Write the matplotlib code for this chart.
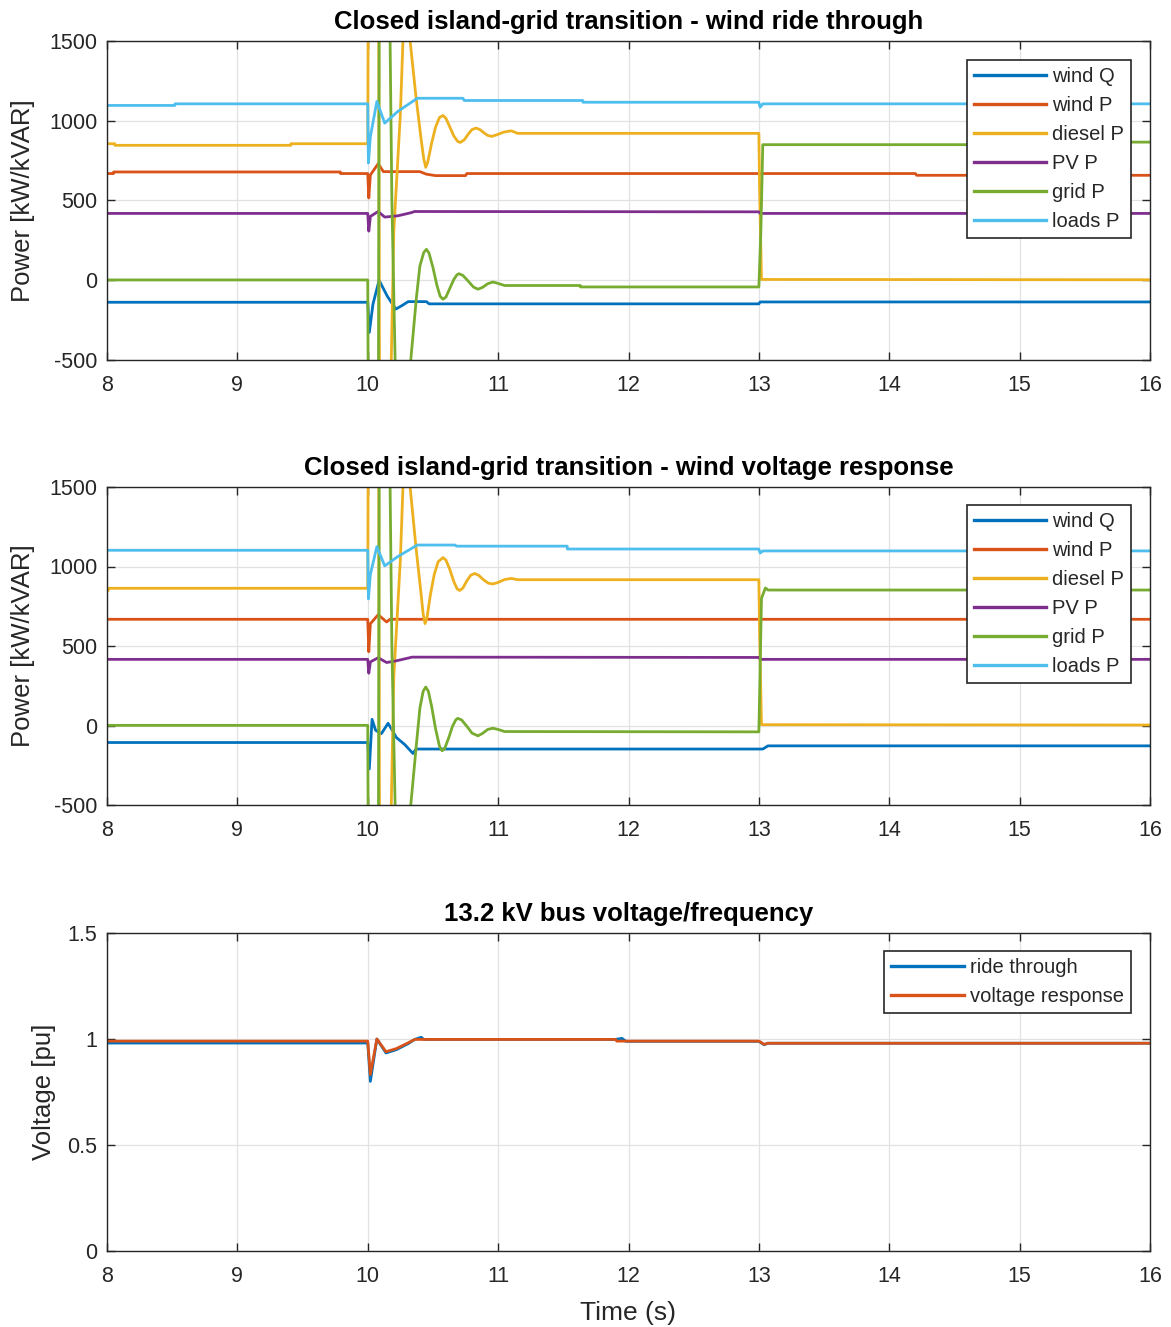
import matplotlib
matplotlib.use("Agg")
import matplotlib.pyplot as plt

plt.rcParams['font.family'] = ['Liberation Sans', 'DejaVu Sans']
plt.rcParams['axes.unicode_minus'] = False

# MATLAB default colour order
C_WQ, C_WP, C_DP, C_PV, C_GP, C_LP = '#0072BD', '#D95319', '#EDB120', '#7E2F8E', '#77AC30', '#4DBEEE'

labels = ['wind Q', 'wind P', 'diesel P', 'PV P', 'grid P', 'loads P']

# ---- panel 1: wind ride through ----
rt_wq_t = [8, 10.0, 10.012, 10.04, 10.087, 10.15, 10.215, 10.26, 10.31, 10.45, 10.47, 13.0, 13.01, 16]
rt_wq = [-138, -138, -327, -150, 0, -100, -181, -160, -134, -134, -148, -148, -136, -136]

rt_wp_t = [8, 8.05, 8.051, 9.79, 9.791, 10.0, 10.008, 10.02, 10.08, 10.12, 10.40, 10.45, 10.52, 10.75, 10.76, 14.2, 14.21, 16]
rt_wp = [669, 669, 679, 679, 669, 669, 516, 660, 731, 681, 681, 665, 656, 656, 669, 669, 658, 658]

rt_dp_t = [8, 8.06, 8.061, 9.41, 9.411, 10.0, 10.003, 10.04, 10.084, 10.09, 10.135, 10.178, 10.20, 10.25,
           10.27, 10.30, 10.325, 10.37, 10.41, 10.43, 10.445, 10.46, 10.49, 10.52, 10.55, 10.577, 10.60,
           10.63, 10.66, 10.69, 10.71, 10.74, 10.77, 10.80, 10.83, 10.86, 10.89, 10.92, 10.95, 10.99,
           11.04, 11.10, 11.15, 13.0, 13.005, 13.02, 16]
rt_dp = [856, 856, 846, 846, 856, 856, 1600, 3000, 1600, -600, -2400, -600, 310, 1040,
         1500, 1800, 1500, 1150, 880, 760, 708, 740, 860, 960, 1020, 1033, 1015,
         960, 905, 870, 864, 880, 915, 945, 954, 945, 925, 908, 902, 912,
         928, 937, 921, 921, 600, 5, 3]

rt_pv_t = [8, 10.0, 10.008, 10.02, 10.08, 10.13, 10.23, 10.33, 10.36, 13.0, 13.01, 16]
rt_pv = [419, 419, 308, 400, 431, 396, 404, 423, 431, 429, 419, 419]

rt_gp_t = [8, 10.0, 10.003, 10.04, 10.082, 10.088, 10.13, 10.17, 10.185, 10.21, 10.27, 10.33, 10.373,
           10.40, 10.43, 10.45, 10.47, 10.50, 10.53, 10.555, 10.577, 10.60, 10.63, 10.66, 10.685,
           10.70, 10.73, 10.77, 10.81, 10.845, 10.88, 10.92, 10.96, 11.0, 11.05, 11.63, 11.631,
           13.0, 13.015, 13.03, 14.79, 14.791, 16]
rt_gp = [2, 2, -600, -2600, -600, 1600, 3300, 1600, 500, -500, -1700, -500, -110,
         90, 175, 194, 170, 80, -30, -100, -119, -105, -50, 5, 35,
         41, 30, -5, -42, -56, -45, -22, -11, -20, -33, -33, -42,
         -42, 300, 850, 850, 866, 866]

rt_lp_t = [8, 8.52, 8.521, 10.0, 10.005, 10.02, 10.07, 10.13, 10.23, 10.38, 10.73, 10.74, 11.65, 11.651,
           13.0, 13.01, 13.03, 16]
rt_lp = [1096, 1096, 1106, 1106, 735, 900, 1121, 985, 1058, 1141, 1141, 1127, 1127, 1116,
         1116, 1085, 1106, 1106]

# ---- panel 2: wind voltage response ----
vr_wq_t = [8, 10.0, 10.012, 10.033, 10.06, 10.105, 10.156, 10.22, 10.284, 10.347, 10.37, 13.03, 13.07, 16]
vr_wq = [-107, -107, -273, 39, -30, -51, 14, -76, -120, -176, -148, -148, -128, -128]

vr_wp_t = [8, 10.0, 10.008, 10.02, 10.08, 10.145, 10.17, 16]
vr_wp = [668, 668, 464, 640, 697, 651, 668, 668]

vr_dp_t = [8, 8.01, 8.011, 10.0, 10.003, 10.04, 10.084, 10.09, 10.135, 10.178, 10.20, 10.25,
           10.27, 10.30, 10.325, 10.37, 10.41, 10.425, 10.44, 10.455, 10.48, 10.51, 10.54, 10.577,
           10.60, 10.63, 10.66, 10.685, 10.705, 10.73, 10.76, 10.79, 10.82, 10.85, 10.89, 10.925,
           10.96, 11.0, 11.05, 11.10, 11.15, 13.0, 13.005, 13.02, 16]
vr_dp = [849, 849, 863, 863, 1600, 3000, 1600, -600, -2400, -600, 310, 1040,
         1500, 1800, 1500, 1120, 820, 700, 641, 680, 820, 950, 1030, 1056,
         1040, 980, 905, 860, 849, 865, 910, 945, 956, 945, 915, 895,
         890, 900, 918, 925, 917, 917, 600, 5, 3]

vr_pv_t = [8, 10.0, 10.008, 10.02, 10.08, 10.145, 10.22, 10.32, 10.34, 13.0, 13.01, 16]
vr_pv = [416, 416, 329, 400, 426, 396, 407, 426, 430, 428, 416, 416]

vr_gp_t = [8, 10.0, 10.003, 10.04, 10.082, 10.088, 10.13, 10.17, 10.185, 10.21, 10.27, 10.33, 10.373,
           10.40, 10.425, 10.445, 10.465, 10.49, 10.52, 10.55, 10.57, 10.59, 10.62, 10.65, 10.675,
           10.69, 10.72, 10.76, 10.80, 10.845, 10.88, 10.92, 10.96, 11.0, 11.05,
           13.0, 13.02, 13.05, 13.07, 16]
vr_gp = [1, 1, -600, -2600, -600, 1600, 3300, 1600, 500, -500, -1700, -500, -120,
         110, 215, 242, 215, 120, -20, -130, -159, -145, -80, -5, 35,
         45, 35, -5, -48, -65, -50, -25, -17, -25, -38,
         -40, 800, 865, 852, 852]

vr_lp_t = [8, 10.0, 10.005, 10.02, 10.07, 10.13, 10.23, 10.38, 10.67, 10.68, 11.53, 11.531,
           13.0, 13.01, 13.03, 16]
vr_lp = [1102, 1102, 796, 950, 1125, 1004, 1062, 1135, 1135, 1128, 1128, 1110,
         1110, 1085, 1098, 1098]

# ---- panel 3: 13.2 kV bus voltage ----
v_rt_t = [8, 10.0, 10.02, 10.07, 10.14, 10.22, 10.31, 10.36, 10.41, 10.43, 11.9, 11.95, 11.98, 13.0, 13.04, 13.07, 16]
v_rt = [0.981, 0.981, 0.80, 1.0, 0.934, 0.95, 0.978, 0.998, 1.008, 0.998, 0.998, 1.003, 0.989, 0.989, 0.973, 0.98, 0.98]
v_vr_t = [8, 10.0, 10.02, 10.07, 10.14, 10.22, 10.31, 10.36, 11.9, 11.91, 13.0, 13.04, 13.07, 16]
v_vr = [0.99, 0.99, 0.832, 1.0, 0.94, 0.955, 0.982, 0.998, 0.998, 0.99, 0.99, 0.975, 0.98, 0.98]

xticks = list(range(8, 17))

fig = plt.figure(figsize=(11.71, 13.27), dpi=100)
L, W = 107 / 1171, 1043 / 1171
ax1 = fig.add_axes([L, 1 - 360 / 1327, W, 319 / 1327])
ax2 = fig.add_axes([L, 1 - 805 / 1327, W, 318 / 1327])
ax3 = fig.add_axes([L, 1 - 1251 / 1327, W, 318 / 1327])

LW = 2.0
def style(ax):
    ax.set_xlim(8, 16)
    ax.set_xticks(xticks)
    ax.grid(True, color='#e2e2e2', lw=0.9)
    ax.tick_params(direction='in', top=True, right=True, length=6, width=1, colors='#262626',
                   labelsize=15.5, labelcolor='#262626')
    ax.tick_params(axis='x', pad=11)
    ax.tick_params(axis='y', pad=7)
    for s in ax.spines.values():
        s.set_color('#262626')
        s.set_linewidth(1)

def legend(ax, y_anchor):
    lg = ax.legend(loc='upper right', bbox_to_anchor=(0.9818, y_anchor), borderaxespad=0,
                   fontsize=14.5, frameon=True, fancybox=False, framealpha=1, edgecolor='#262626',
                   handlelength=3.6, handletextpad=0.3, labelspacing=0.5, borderpad=0.35)
    lg.get_frame().set_linewidth(1.2)
    for t in lg.get_texts():
        t.set_color('#262626')
    for h in lg.get_lines():
        h.set_linewidth(2.4)

for ax, series, title in [
    (ax1, [(rt_wq_t, rt_wq), (rt_wp_t, rt_wp), (rt_dp_t, rt_dp), (rt_pv_t, rt_pv), (rt_gp_t, rt_gp), (rt_lp_t, rt_lp)],
     'Closed island-grid transition - wind ride through'),
    (ax2, [(vr_wq_t, vr_wq), (vr_wp_t, vr_wp), (vr_dp_t, vr_dp), (vr_pv_t, vr_pv), (vr_gp_t, vr_gp), (vr_lp_t, vr_lp)],
     'Closed island-grid transition - wind voltage response'),
]:
    for (t, v), c, lab in zip(series, [C_WQ, C_WP, C_DP, C_PV, C_GP, C_LP], labels):
        ax.plot(t, v, color=c, lw=LW, label=lab)
    style(ax)
    ax.set_ylim(-500, 1500)
    ax.set_yticks([-500, 0, 500, 1000, 1500])
    ax.set_ylabel('Power [kW/kVAR]', fontsize=18.5, color='#262626', labelpad=10)
    ax.set_title(title, fontsize=18.5, fontweight='bold', pad=9)

legend(ax1, (360 - 60) / 319)
legend(ax2, (805 - 505) / 318)

ax3.plot(v_rt_t, v_rt, color=C_WQ, lw=LW, label='ride through')
ax3.plot(v_vr_t, v_vr, color=C_WP, lw=LW, label='voltage response')
style(ax3)
ax3.set_ylim(0, 1.5)
ax3.set_yticks([0, 0.5, 1, 1.5])
ax3.set_yticklabels(['0', '0.5', '1', '1.5'])
ax3.set_ylabel('Voltage [pu]', fontsize=18.5, color='#262626', labelpad=8)
ax3.set_xlabel('Time (s)', fontsize=19, color='#262626', labelpad=10)
ax3.set_title('13.2 kV bus voltage/frequency', fontsize=18.5, fontweight='bold', pad=9)
legend(ax3, (1251 - 951) / 318)

fig.savefig('out.png', dpi=100)
